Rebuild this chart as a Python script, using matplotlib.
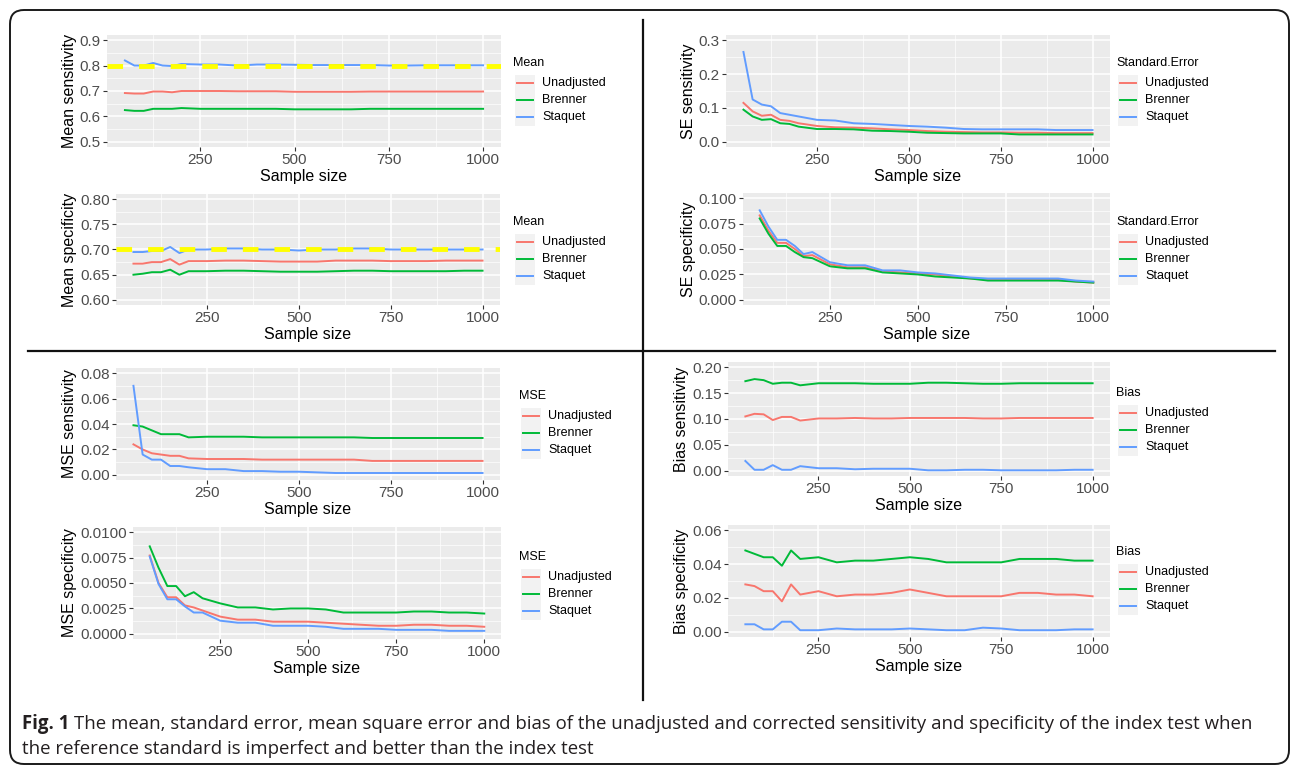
import matplotlib
matplotlib.use("Agg")
import matplotlib.pyplot as plt
from matplotlib.patches import Rectangle, FancyBboxPatch
from matplotlib.lines import Line2D

W, H = 1292, 769
plt.rcParams['font.family'] = ['Liberation Sans', 'DejaVu Sans']

sample_size = [50, 75, 100, 125, 150, 175, 200, 250, 300, 350, 400, 450,
               500, 550, 600, 650, 700, 750, 800, 850, 900, 950, 1000]
series_names = ['Unadjusted', 'Brenner', 'Staquet']
series_colors = ['#F8766D', '#00BA38', '#619CFF']

# mean
mean_sens_unadj = [0.692, 0.690, 0.690, 0.698, 0.698, 0.695, 0.700, 0.700, 0.700, 0.699, 0.699, 0.699,
                   0.697, 0.697, 0.697, 0.697, 0.698, 0.698, 0.698, 0.698, 0.698, 0.698, 0.698]
mean_sens_brenner = [0.625, 0.622, 0.622, 0.630, 0.630, 0.630, 0.633, 0.630, 0.630, 0.630, 0.630, 0.630,
                     0.628, 0.628, 0.628, 0.628, 0.630, 0.630, 0.630, 0.630, 0.630, 0.630, 0.630]
mean_sens_staquet = [0.820, 0.800, 0.800, 0.810, 0.800, 0.798, 0.806, 0.804, 0.804, 0.800, 0.804, 0.804,
                     0.803, 0.802, 0.802, 0.802, 0.802, 0.800, 0.800, 0.801, 0.801, 0.801, 0.801]
mean_spec_unadj = [0.672, 0.672, 0.675, 0.675, 0.681, 0.670, 0.677, 0.677, 0.678, 0.678, 0.677, 0.676,
                   0.676, 0.676, 0.678, 0.678, 0.678, 0.677, 0.677, 0.677, 0.678, 0.678, 0.678]
mean_spec_brenner = [0.650, 0.652, 0.655, 0.655, 0.660, 0.650, 0.657, 0.657, 0.658, 0.658, 0.657, 0.656,
                     0.656, 0.656, 0.657, 0.658, 0.658, 0.657, 0.657, 0.657, 0.657, 0.658, 0.658]
mean_spec_staquet = [0.695, 0.695, 0.697, 0.697, 0.705, 0.693, 0.700, 0.700, 0.702, 0.702, 0.700, 0.700,
                     0.698, 0.700, 0.700, 0.702, 0.702, 0.700, 0.700, 0.700, 0.700, 0.700, 0.700]
true_sens = 0.80
true_spec = 0.70

# standard error
se_sens_unadj = [0.115, 0.090, 0.077, 0.080, 0.065, 0.062, 0.055, 0.047, 0.043, 0.042, 0.040, 0.037,
                 0.035, 0.032, 0.030, 0.029, 0.028, 0.028, 0.027, 0.027, 0.026, 0.026, 0.026]
se_sens_brenner = [0.095, 0.075, 0.065, 0.067, 0.055, 0.053, 0.045, 0.038, 0.038, 0.037, 0.033, 0.032,
                   0.030, 0.027, 0.026, 0.025, 0.025, 0.025, 0.022, 0.022, 0.022, 0.022, 0.022]
se_sens_staquet = [0.265, 0.125, 0.110, 0.105, 0.085, 0.080, 0.075, 0.065, 0.063, 0.055, 0.053, 0.050,
                   0.047, 0.045, 0.042, 0.038, 0.037, 0.037, 0.037, 0.037, 0.035, 0.035, 0.035]
se_spec_unadj = [0.083, 0.068, 0.056, 0.056, 0.050, 0.043, 0.044, 0.035, 0.032, 0.032, 0.028, 0.027,
                 0.026, 0.025, 0.023, 0.021, 0.020, 0.020, 0.020, 0.020, 0.020, 0.018, 0.017]
se_spec_brenner = [0.080, 0.065, 0.053, 0.053, 0.047, 0.042, 0.041, 0.033, 0.031, 0.031, 0.027, 0.026,
                   0.025, 0.023, 0.022, 0.021, 0.019, 0.019, 0.019, 0.019, 0.019, 0.018, 0.017]
se_spec_staquet = [0.088, 0.072, 0.059, 0.059, 0.053, 0.045, 0.047, 0.037, 0.034, 0.034, 0.029, 0.029,
                   0.027, 0.026, 0.024, 0.022, 0.021, 0.021, 0.021, 0.021, 0.021, 0.019, 0.018]

# mean square error
mse_sens_unadj = [0.024, 0.020, 0.017, 0.016, 0.015, 0.015, 0.013, 0.0125, 0.0125, 0.0125, 0.012, 0.012,
                  0.012, 0.012, 0.012, 0.012, 0.011, 0.011, 0.011, 0.011, 0.011, 0.011, 0.011]
mse_sens_brenner = [0.039, 0.038, 0.035, 0.032, 0.032, 0.032, 0.0295, 0.030, 0.030, 0.030, 0.0295, 0.0295,
                    0.0295, 0.0295, 0.0295, 0.0295, 0.029, 0.029, 0.029, 0.029, 0.029, 0.029, 0.029]
mse_sens_staquet = [0.070, 0.016, 0.012, 0.012, 0.007, 0.007, 0.006, 0.0045, 0.0045, 0.003, 0.003, 0.0025,
                    0.0025, 0.002, 0.0015, 0.0015, 0.0015, 0.0015, 0.0015, 0.0015, 0.0015, 0.0015, 0.0015]
mse_spec_unadj = [0.0077, 0.0050, 0.0036, 0.0036, 0.0028, 0.0026, 0.0023, 0.0017, 0.0014, 0.0014, 0.0012, 0.0012,
                  0.0012, 0.0011, 0.0010, 0.0009, 0.0008, 0.0008, 0.0009, 0.0009, 0.0008, 0.0008, 0.0007]
mse_spec_brenner = [0.0086, 0.0065, 0.0047, 0.0047, 0.0037, 0.0041, 0.0035, 0.0030, 0.0026, 0.0026, 0.0024, 0.0025,
                    0.0025, 0.0024, 0.0021, 0.0021, 0.0021, 0.0021, 0.0022, 0.0022, 0.0021, 0.0021, 0.0020]
mse_spec_staquet = [0.0076, 0.0049, 0.0034, 0.0034, 0.0027, 0.0021, 0.0021, 0.0013, 0.0011, 0.0011, 0.0008, 0.0008,
                    0.0008, 0.0007, 0.0005, 0.0005, 0.0005, 0.0004, 0.0004, 0.0004, 0.0003, 0.0003, 0.0003]

# bias
bias_sens_unadj = [0.105, 0.110, 0.109, 0.098, 0.104, 0.104, 0.097, 0.101, 0.101, 0.102, 0.101, 0.101,
                   0.102, 0.102, 0.102, 0.102, 0.101, 0.101, 0.102, 0.102, 0.102, 0.102, 0.102]
bias_sens_brenner = [0.173, 0.177, 0.175, 0.168, 0.170, 0.170, 0.165, 0.169, 0.169, 0.169, 0.168, 0.168,
                     0.168, 0.170, 0.170, 0.169, 0.168, 0.168, 0.169, 0.169, 0.169, 0.169, 0.169]
bias_sens_staquet = [0.019, 0.002, 0.002, 0.011, 0.002, 0.002, 0.009, 0.005, 0.005, 0.003, 0.004, 0.004,
                     0.004, 0.001, 0.001, 0.002, 0.002, 0.001, 0.001, 0.001, 0.001, 0.002, 0.002]
bias_spec_unadj = [0.028, 0.027, 0.024, 0.024, 0.018, 0.028, 0.022, 0.024, 0.021, 0.022, 0.022, 0.023,
                   0.025, 0.023, 0.021, 0.021, 0.021, 0.021, 0.023, 0.023, 0.022, 0.022, 0.021]
bias_spec_brenner = [0.048, 0.046, 0.044, 0.044, 0.039, 0.048, 0.043, 0.044, 0.041, 0.042, 0.042, 0.043,
                     0.044, 0.043, 0.041, 0.041, 0.041, 0.041, 0.043, 0.043, 0.043, 0.042, 0.042]
bias_spec_staquet = [0.0045, 0.0045, 0.0015, 0.0015, 0.006, 0.006, 0.001, 0.001, 0.002, 0.0015, 0.0015, 0.0015,
                     0.002, 0.0015, 0.001, 0.001, 0.0025, 0.002, 0.001, 0.001, 0.001, 0.0015, 0.0015]

caption_bold = 'Fig. 1'
caption_line1 = ('The mean, standard error, mean square error and bias of the unadjusted and corrected '
                 'sensitivity and specificity of the index test when')
caption_line2 = 'the reference standard is imperfect and better than the index test'

fig = plt.figure(figsize=(W / 100, H / 100), dpi=100)

# (box l,t,r,b in px, ylabel, yticks, fmt, series, ref line, legend title, legend x, legend title y)
panels = [
    ((107, 35, 501, 147), 'Mean sensitivity', [0.5, 0.6, 0.7, 0.8, 0.9], '{:.1f}',
     [mean_sens_unadj, mean_sens_brenner, mean_sens_staquet], true_sens, 'Mean', 513, 63),
    ((116, 194, 500, 305), 'Mean specificity', [0.60, 0.65, 0.70, 0.75, 0.80], '{:.2f}',
     [mean_spec_unadj, mean_spec_brenner, mean_spec_staquet], true_spec, 'Mean', 513, 222),
    ((726, 35, 1110, 147), 'SE sensitivity', [0.0, 0.1, 0.2, 0.3], '{:.1f}',
     [se_sens_unadj, se_sens_brenner, se_sens_staquet], None, 'Standard.Error', 1116, 63),
    ((743, 193, 1110, 305), 'SE specificity', [0.0, 0.025, 0.05, 0.075, 0.1], '{:.3f}',
     [se_spec_unadj, se_spec_brenner, se_spec_staquet], None, 'Standard.Error', 1116, 222),
    ((116, 368, 500, 480), 'MSE sensitivity', [0.0, 0.02, 0.04, 0.06, 0.08], '{:.2f}',
     [mse_sens_unadj, mse_sens_brenner, mse_sens_staquet], None, 'MSE', 519, 396),
    ((133, 527, 501, 639), 'MSE specificity', [0.0, 0.0025, 0.005, 0.0075, 0.01], '{:.4f}',
     [mse_spec_unadj, mse_spec_brenner, mse_spec_staquet], None, 'MSE', 519, 557),
    ((728, 362, 1110, 476), 'Bias sensitivity', [0.0, 0.05, 0.10, 0.15, 0.20], '{:.2f}',
     [bias_sens_unadj, bias_sens_brenner, bias_sens_staquet], None, 'Bias', 1116, 393),
    ((728, 525, 1110, 637), 'Bias specificity', [0.0, 0.02, 0.04, 0.06], '{:.2f}',
     [bias_spec_unadj, bias_spec_brenner, bias_spec_staquet], None, 'Bias', 1116, 552),
]

x_ticks = [250, 500, 750, 1000]

for box, ylab, yticks, fmt, series, ref, leg_title, leg_x, leg_y in panels:
    l, t, r, b = box
    ax = fig.add_axes([l / W, 1 - b / H, (r - l) / W, (b - t) / H])
    ax.set_facecolor('#EBEBEB')
    for s in ax.spines.values():
        s.set_visible(False)
    pad = 0.05 * (yticks[-1] - yticks[0])
    ax.set_ylim(yticks[0] - pad, yticks[-1] + pad)
    ax.set_xlim(2.5, 1047.5)
    ax.set_xticks(x_ticks)
    ax.set_xticks([125, 375, 625, 875], minor=True)
    ax.set_yticks(yticks)
    ax.set_yticklabels([fmt.format(v) for v in yticks])
    step = yticks[1] - yticks[0]
    ax.set_yticks([v + step / 2 for v in yticks[:-1]], minor=True)
    ax.grid(which='major', color='white', lw=1.1)
    ax.grid(which='minor', color='white', lw=0.5)
    ax.set_axisbelow(True)
    ax.tick_params(which='major', length=3, width=0.8, color='#333333',
                   labelcolor='#4D4D4D', labelsize=11, pad=1.5)
    ax.tick_params(which='minor', length=0)
    for vals, c in zip(series, series_colors):
        ax.plot(sample_size, vals, color=c, lw=1.4, solid_joinstyle='round')
    if ref is not None:
        ax.axhline(ref, color='#FFFF00', lw=3.5, ls=(0, (3.2, 3.3)), dash_capstyle='butt')
    ax.set_xlabel('Sample size', fontsize=11.5, labelpad=1)
    ax.set_ylabel(ylab, fontsize=11.5, labelpad=2)

# overlay in pixel coordinates: frame, dividers, legends, caption
ov = fig.add_axes([0, 0, 1, 1])
ov.set_xlim(0, W)
ov.set_ylim(H, 0)
ov.axis('off')
ov.patch.set_alpha(0)

frame = FancyBboxPatch((10, 10), 1279, 754, boxstyle='round,pad=0,rounding_size=14',
                       fill=False, ec='#1A1A1A', lw=1.4)
ov.add_patch(frame)
ov.add_line(Line2D([643, 643], [20, 700], color='#111111', lw=1.6))
ov.add_line(Line2D([28, 1275], [351, 351], color='#111111', lw=1.6))

for box, ylab, yticks, fmt, series, ref, leg_title, leg_x, leg_y in panels:
    ov.text(leg_x, leg_y, leg_title, fontsize=9, va='center', ha='left', color='black')
    kx = leg_x + 2
    for i, (name, c) in enumerate(zip(series_names, series_colors)):
        yc = leg_y + 20 + 17 * i
        ov.add_patch(Rectangle((kx, yc - 8.5), 20, 17, fc='#F2F2F2', ec='none'))
        ov.add_line(Line2D([kx + 2, kx + 18], [yc, yc], color=c, lw=1.4))
        ov.text(kx + 27, yc, name, fontsize=9, va='center', ha='left', color='black')

# caption: Open Sans, sized so the first line ends where it does in the figure
cap_font = ['Open Sans', 'DejaVu Sans']
cap_color = '#231F20'
cap_size = 12.0
tb = ov.text(22, 724, caption_bold, fontsize=cap_size, fontweight='bold', va='center', ha='left',
             color=cap_color, family=cap_font)
t1 = ov.text(0, 724, caption_line1, fontsize=cap_size, va='center', ha='left',
             color=cap_color, family=cap_font)
fig.canvas.draw()
r = fig.canvas.get_renderer()
w_total = tb.get_window_extent(r).width + 5 + t1.get_window_extent(r).width
cap_size = cap_size * (1250 - 22) / w_total
tb.set_fontsize(cap_size)
t1.set_fontsize(cap_size)
fig.canvas.draw()
t1.set_x(tb.get_window_extent(r).x1 + 5)
ov.text(22, 749, caption_line2, fontsize=cap_size, va='center', ha='left',
        color=cap_color, family=cap_font)

fig.savefig('out.png', dpi=100)
